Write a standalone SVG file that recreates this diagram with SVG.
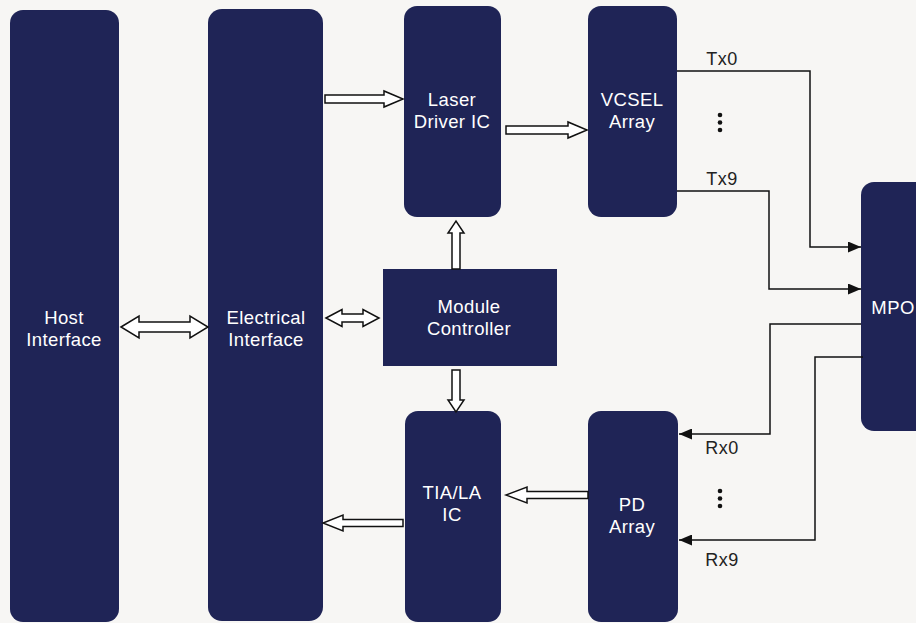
<svg xmlns="http://www.w3.org/2000/svg" width="916" height="623" viewBox="0 0 916 623">
<defs>
<style>
.node{fill:#1f2456;}
.lbl{fill:#ffffff;font-family:"Liberation Sans",Arial,sans-serif;font-size:18.5px;letter-spacing:0.4px;text-anchor:middle;}
.tag{fill:#222222;font-family:"Liberation Sans",Arial,sans-serif;font-size:18px;letter-spacing:0.5px;text-anchor:middle;}
.blk{fill:#ffffff;stroke:#111111;stroke-width:1.5;stroke-linejoin:miter;}
.wire{fill:none;stroke:#111111;stroke-width:1.5;}
.dot{fill:#111111;}
</style>
<marker id="ah" viewBox="0 0 13 11" refX="13" refY="5.5" markerWidth="13" markerHeight="11" markerUnits="userSpaceOnUse" orient="auto">
<path d="M0,0 L13,5.5 L0,11 Z" fill="#111111"/>
</marker>
</defs>
<rect width="916" height="623" fill="#f7f6f4"/>
<g id="host-interface">
<rect class="node" x="10" y="10" width="109" height="612" rx="13"/>
<text class="lbl" x="64" y="324">Host</text>
<text class="lbl" x="64" y="346">Interface</text>
</g>
<g id="electrical-interface">
<rect class="node" x="208" y="9" width="115" height="612" rx="14"/>
<text class="lbl" x="266" y="324">Electrical</text>
<text class="lbl" x="266" y="346">Interface</text>
</g>
<g id="laser-driver">
<rect class="node" x="404" y="6" width="97" height="211" rx="13"/>
<text class="lbl" x="452" y="106">Laser</text>
<text class="lbl" x="452" y="128">Driver IC</text>
</g>
<g id="vcsel-array">
<rect class="node" x="588" y="6" width="89" height="211" rx="13"/>
<text class="lbl" x="632" y="106">VCSEL</text>
<text class="lbl" x="632" y="128">Array</text>
</g>
<g id="module-controller">
<rect class="node" x="383" y="269" width="174" height="97"/>
<text class="lbl" x="469" y="313">Module</text>
<text class="lbl" x="469" y="335">Controller</text>
</g>
<g id="tia-la">
<rect class="node" x="405" y="411" width="96" height="211" rx="13"/>
<text class="lbl" x="452" y="499">TIA/LA</text>
<text class="lbl" x="452" y="521">IC</text>
</g>
<g id="pd-array">
<rect class="node" x="588" y="411" width="90" height="211" rx="13"/>
<text class="lbl" x="632" y="511">PD</text>
<text class="lbl" x="632" y="533">Array</text>
</g>
<g id="mpo">
<rect class="node" x="861" y="182" width="80" height="249" rx="13"/>
<text class="lbl" x="893" y="314">MPO</text>
</g>
<g id="connectors">
<path class="blk" d="M325,95 H384 V91 L403,99 L384,107 V103 H325 Z"/>
<path class="blk" d="M506,126 H568 V122 L587,130 L568,138 V134 H506 Z"/>
<path class="blk" d="M121,327 L139,316 V322 H190 V316 L208,327 L190,338 V332 H139 V338 Z"/>
<path class="blk" d="M326,318 L342,309.5 V314 H363 V309.5 L379,318 L363,326.5 V322 H342 V326.5 Z"/>
<path class="blk" d="M452,269 V233 H448 L456,221 L464,233 H460 V269 Z"/>
<path class="blk" d="M452,370 V400 H448 L456,412 L464,400 H460 V370 Z"/>
<path class="blk" d="M588,491.5 H527 V487 L506,495 L527,503 V498.5 H588 Z"/>
<path class="blk" d="M403,519.5 H343 V515 L323,523 L343,531 V526.5 H403 Z"/>
<path class="wire" d="M677,71 H810 V247 H861" marker-end="url(#ah)"/>
<path class="wire" d="M677,191 H769 V289 H861" marker-end="url(#ah)"/>
<path class="wire" d="M861,324 H770 V434 H679" marker-end="url(#ah)"/>
<path class="wire" d="M863,357 H815 V540 H679" marker-end="url(#ah)"/>
<text class="tag" x="722" y="65">Tx0</text>
<text class="tag" x="722" y="185">Tx9</text>
<text class="tag" x="722" y="454">Rx0</text>
<text class="tag" x="722" y="566">Rx9</text>
<circle class="dot" cx="720" cy="115" r="2.3"/>
<circle class="dot" cx="720" cy="122.5" r="2.3"/>
<circle class="dot" cx="720" cy="130" r="2.3"/>
<circle class="dot" cx="720" cy="491" r="2.3"/>
<circle class="dot" cx="720" cy="498.5" r="2.3"/>
<circle class="dot" cx="720" cy="506" r="2.3"/>
</g>
</svg>
